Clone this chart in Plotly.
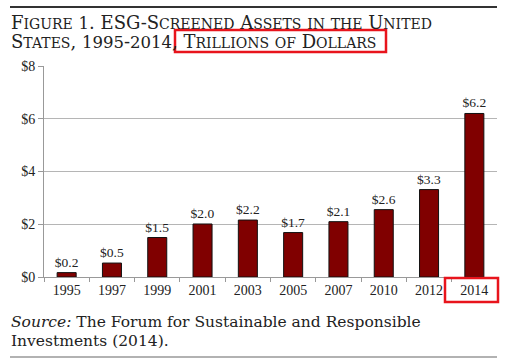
import plotly.graph_objects as go

years = ["1995", "1997", "1999", "2001", "2003", "2005", "2007", "2010", "2012", "2014"]
assets = [0.166, 0.529, 1.497, 2.01, 2.159, 1.685, 2.098, 2.554, 3.314, 6.2]
y_ticks = [0, 2, 4, 6, 8]
y_tick_labels = ["$0", "$2", "$4", "$6", "$8"]

W, H = 509, 363
L, R, T, B = 44, 497, 66, 277

def px(x):
    return (x - L) / (R - L)

def py(y):
    return (B - y) / (B - T)

SERIF = "Liberation Serif, Times New Roman, serif"
TITLE_FONT = "DejaVu Serif, serif"

def small_caps(s, small=14, digit=16.5):
    out = []
    for ch in s:
        if ch.islower():
            out.append(f"<span style='font-size:{small}px'>{ch.upper()}</span>")
        elif ch.isdigit():
            out.append(f"<span style='font-size:{digit}px'>{ch}</span>")
        else:
            out.append(ch)
    return "".join(out)

fig = go.Figure(go.Bar(
    x=years, y=assets,
    marker=dict(color="#800000", line=dict(color="#111", width=1)),
    width=0.42,
    text=[f"${v:.1f}" for v in assets],
    textposition="outside",
    constraintext="none",
    textfont=dict(family=SERIF, size=13.5, color="#222"),
    cliponaxis=False,
    hoverinfo="skip",
))

fig.update_layout(
    width=W, height=H,
    margin=dict(l=L, r=W - R, t=T, b=H - B),
    paper_bgcolor="white", plot_bgcolor="white",
    showlegend=False,
    font=dict(family=SERIF, color="#222"),
    xaxis=dict(
        type="category", tickson="boundaries", ticks="outside", ticklen=4,
        tickcolor="#999", showline=True, linecolor="#999", linewidth=1,
        tickfont=dict(family=SERIF, size=14, color="#222"),
        showgrid=False, automargin=False,
    ),
    yaxis=dict(
        range=[0, 8], tickvals=y_ticks, ticktext=y_tick_labels,
        ticks="outside", ticklen=5, tickcolor="#999",
        showline=True, linecolor="#999", linewidth=1,
        showgrid=True, gridcolor="#b5b5b5", gridwidth=1,
        tickfont=dict(family=SERIF, size=14, color="#222"),
        zeroline=False, automargin=False,
    ),
    shapes=[
        dict(type="line", xref="paper", yref="paper", x0=px(10), x1=px(497), y0=py(7), y1=py(7),
             line=dict(color="#333", width=2)),
        dict(type="line", xref="paper", yref="paper", x0=px(10), x1=px(497), y0=py(357), y1=py(357),
             line=dict(color="#999", width=1.5)),
        dict(type="rect", xref="paper", yref="paper", x0=px(175), x1=px(386), y0=py(30), y1=py(52),
             line=dict(color="#e8141c", width=2.5)),
        dict(type="rect", xref="paper", yref="paper", x0=px(445), x1=px(498), y0=py(278), y1=py(302),
             line=dict(color="#e8141c", width=2.5)),
    ],
    annotations=[
        dict(xref="paper", yref="paper", x=px(9), y=py(22), xanchor="left", yanchor="middle",
             text=small_caps("Figure 1. ESG-Screened Assets in the United"), showarrow=False,
             font=dict(family=TITLE_FONT, size=18, color="#222")),
        dict(xref="paper", yref="paper", x=px(9), y=py(42), xanchor="left", yanchor="middle",
             text=small_caps("States, 1995-2014, Trillions of Dollars"), showarrow=False,
             font=dict(family=TITLE_FONT, size=18, color="#222")),
        dict(xref="paper", yref="paper", x=px(9), y=py(322), xanchor="left", yanchor="middle",
             text="<i>Source:</i> The Forum for Sustainable and Responsible", showarrow=False,
             font=dict(family="DejaVu Serif, serif", size=15.5, color="#222")),
        dict(xref="paper", yref="paper", x=px(9), y=py(341), xanchor="left", yanchor="middle",
             text="Investments (2014).", showarrow=False,
             font=dict(family="DejaVu Serif, serif", size=15.5, color="#222")),
    ],
)

fig.write_html(
    "out.html",
    config={"displayModeBar": False},
    post_script="document.body.style.margin='0';document.body.style.overflow='hidden';",
)
